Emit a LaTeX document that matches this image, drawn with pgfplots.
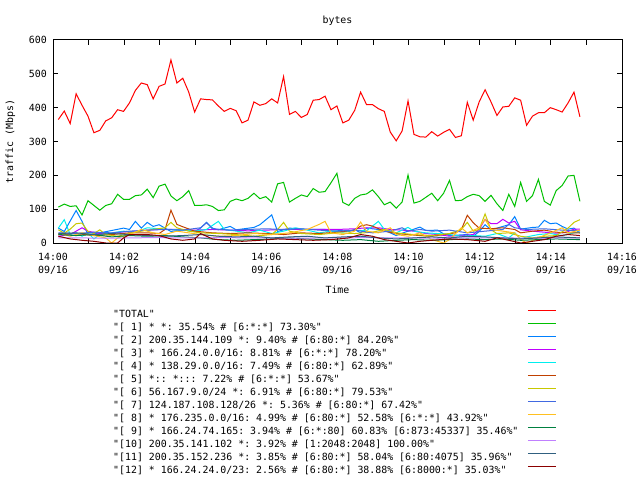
\documentclass[border=0pt]{standalone}
\usepackage{fontspec}
\setmonofont{DejaVu Sans Mono}
\renewcommand{\familydefault}{\ttdefault}
\usepackage{pgfplots}
\pgfplotsset{compat=1.18}

\definecolor{gpred}{HTML}{FF0000}
\definecolor{gpgreen}{HTML}{00C000}
\definecolor{gpblue}{HTML}{0080FF}
\definecolor{gppurple}{HTML}{C000FF}
\definecolor{gpcyan}{HTML}{00EEEE}
\definecolor{gpbrown}{HTML}{C04000}
\definecolor{gpyellow}{HTML}{C8C800}
\definecolor{gproyal}{HTML}{4169E1}
\definecolor{gpgold}{HTML}{FFC020}
\definecolor{gpdkgreen}{HTML}{008040}
\definecolor{gpltpurple}{HTML}{C080FF}
\definecolor{gpsteel}{HTML}{306080}
\definecolor{gpdkred}{HTML}{8B0000}

\newcommand{\gf}{\fontsize{9.9bp}{13bp}\selectfont}

\begin{document}
\begin{tikzpicture}
\useasboundingbox (0,0) rectangle (640bp,480bp);
% x is the sample number (10 s steps); 14:00 = -0.9, 14:16 = 95.1
\begin{axis}[
    at={(53bp,237bp)}, anchor=south west,
    scale only axis, width=569bp, height=203bp,
    xmin=-0.9, xmax=95.1, ymin=0, ymax=600,
    xtick={-0.9,5.1,11.1,17.1,23.1,29.1,35.1,41.1,47.1,53.1,59.1,65.1,71.1,77.1,83.1,89.1,95.1},
    xticklabels={{14:00\\09/16},{},{14:02\\09/16},{},{14:04\\09/16},{},{14:06\\09/16},{},{14:08\\09/16},{},{14:10\\09/16},{},{14:12\\09/16},{},{14:14\\09/16},{},{14:16\\09/16}},
    ytick={0,100,200,300,400,500,600},
    tick align=inside, major tick length=5bp,
    every tick/.style={black, line width=1bp},
    axis line style={line width=1bp},
    /pgf/number format/assume math mode=true,
    ticklabel style={font=\gf},
    xticklabel style={align=center, inner sep=0pt, anchor=north, yshift=-10bp},
    yticklabel style={anchor=east, inner sep=0pt, xshift=-6bp},
    title={bytes}, title style={font=\gf, at={(axis description cs:0.5,1)}, anchor=base, yshift=11bp},
    xlabel={Time}, xlabel style={font=\gf, at={(axis description cs:0.5,0)}, anchor=base, yshift=-50bp},
    ylabel={traffic (Mbps)}, ylabel style={font=\gf, at={(axis description cs:-0.0703,0.5)}, anchor=base},
    legend plot pos=right, legend cell align=left,
    legend image code/.code={\draw[#1] (0bp,4bp) -- (28bp,4bp);},
    legend style={at={(axis description cs:0.1054,-0.3202)}, anchor=north west,
        draw=none, fill=none, inner sep=0pt, row sep=0pt, column sep=9bp,
        nodes={inner sep=0pt, text height=9bp, text depth=4bp, font=\gf}},
    every axis plot/.append style={line width=1bp, mark=none},
]
\addplot[gpred] coordinates {
(0,365)(1,390)(2,353)(3,441)(4,407)(5,375)(6,326)(7,333)(8,361)(9,370)(10,394)(11,389)(12,414)(13,451)(14,473)(15,468)(16,426)(17,463)(18,470)(19,541)(20,473)(21,487)(22,446)(23,387)(24,426)(25,424)(26,423)(27,405)(28,389)(29,398)(30,391)(31,355)(32,363)(33,417)(34,407)(35,412)(36,426)(37,414)(38,492)(39,380)(40,389)(41,371)(42,380)(43,422)(44,424)(45,434)(46,394)(47,405)(48,355)(49,363)(50,392)(51,446)(52,409)(53,409)(54,397)(55,389)(56,328)(57,302)(58,331)(59,420)(60,321)(61,314)(62,313)(63,329)(64,316)(65,327)(66,336)(67,312)(68,317)(69,416)(70,363)(71,417)(72,453)(73,417)(74,377)(75,402)(76,404)(77,429)(78,422)(79,348)(80,375)(81,385)(82,385)(83,400)(84,394)(85,387)(86,414)(87,446)(88,373)};
\addlegendentry{"TOTAL"}
\addplot[gpgreen] coordinates {
(0,106)(1,115)(2,108)(3,110)(4,83)(5,125)(6,111)(7,97)(8,111)(9,116)(10,144)(11,129)(12,129)(13,140)(14,142)(15,159)(16,134)(17,168)(18,174)(19,139)(20,125)(21,137)(22,155)(23,111)(24,111)(25,113)(26,108)(27,96)(28,98)(29,123)(30,130)(31,125)(32,132)(33,147)(34,131)(35,137)(36,121)(37,175)(38,179)(39,121)(40,132)(41,142)(42,137)(43,161)(44,150)(45,152)(46,178)(47,206)(48,120)(49,111)(50,132)(51,142)(52,145)(53,157)(54,137)(55,113)(56,121)(57,103)(58,121)(59,201)(60,118)(61,123)(62,135)(63,147)(64,125)(65,147)(66,185)(67,125)(68,126)(69,137)(70,144)(71,140)(72,123)(73,141)(74,116)(75,96)(76,144)(77,108)(78,179)(79,123)(80,140)(81,188)(82,123)(83,112)(84,155)(85,170)(86,198)(87,200)(88,123)};
\addlegendentry{"[ 1] * *: 35.54\% \# [6:*:*] 73.30\%"}
\addplot[gpblue] coordinates {
(0,44)(1,34)(3,96)(4,64)(5,25)(7,30)(9,37)(11,44)(12,40)(13,64)(14,44)(15,61)(16,49)(17,54)(18,44)(19,34)(21,39)(23,34)(24,44)(25,61)(26,44)(27,39)(29,49)(30,39)(33,46)(34,54)(36,83)(37,34)(39,44)(42,40)(45,40)(47,38)(49,34)(50,40)(51,30)(52,44)(55,38)(57,22)(58,29)(60,41)(61,47)(62,37)(64,38)(65,27)(66,22)(69,25)(70,20)(71,34)(72,54)(73,39)(75,49)(76,54)(77,78)(78,41)(80,46)(81,47)(82,67)(83,57)(84,59)(85,49)(86,41)(87,44)(88,29)};
\addlegendentry{"[ 2] 200.35.144.109 *: 9.40\% \# [6:80:*] 84.20\%"}
\addplot[gppurple] coordinates {
(0,20)(2,25)(4,45)(5,35)(7,28)(9,28)(11,33)(13,35)(15,38)(17,40)(20,40)(23,38)(26,40)(29,38)(32,36)(35,38)(38,40)(41,40)(44,40)(47,40)(50,42)(52,45)(54,45)(56,40)(58,38)(60,35)(62,28)(64,25)(66,20)(68,22)(70,25)(71,40)(72,70)(73,57)(74,57)(75,70)(76,59)(77,64)(78,39)(80,35)(82,32)(84,29)(85,30)(86,34)(87,41)(88,41)};
\addlegendentry{"[ 3] * 166.24.0.0/16: 8.81\% \# [6:*:*] 78.20\%"}
\addplot[gpcyan] coordinates {
(0,44)(1,69)(2,25)(3,30)(4,20)(5,30)(6,12)(7,25)(9,30)(11,35)(13,32)(15,45)(17,42)(19,40)(21,38)(23,35)(25,40)(27,64)(28,40)(30,35)(32,30)(34,38)(36,28)(38,35)(40,45)(42,38)(44,30)(46,35)(48,32)(50,38)(52,36)(54,64)(55,40)(57,30)(59,46)(60,35)(62,30)(64,28)(66,25)(68,20)(70,22)(72,20)(74,28)(76,15)(77,30)(78,12)(79,18)(81,25)(83,28)(85,22)(87,30)(88,32)};
\addlegendentry{"[ 4] * 138.29.0.0/16: 7.49\% \# [6:80:*] 62.89\%"}
\addplot[gpbrown] coordinates {
(0,25)(3,28)(6,22)(9,25)(12,30)(15,30)(17,28)(18,40)(19,97)(20,55)(21,48)(23,35)(26,30)(29,28)(32,30)(35,28)(38,25)(41,30)(44,28)(47,32)(50,38)(51,50)(52,54)(53,50)(55,35)(57,28)(59,25)(61,22)(63,20)(65,25)(67,30)(68,40)(69,82)(70,60)(71,44)(73,42)(75,45)(77,40)(78,30)(80,35)(82,38)(84,32)(86,30)(88,30)};
\addlegendentry{"[ 5] *:: *::: 7.22\% \# [6:*:*] 53.67\%"}
\addplot[gpyellow] coordinates {
(0,39)(1,29)(2,41)(3,57)(4,59)(5,34)(6,28)(7,39)(8,25)(10,20)(12,28)(14,35)(16,40)(18,45)(19,61)(20,45)(22,35)(24,30)(27,28)(30,25)(33,20)(36,25)(37,40)(38,61)(39,35)(41,28)(44,25)(47,30)(50,28)(53,32)(55,40)(57,30)(60,25)(63,22)(66,28)(68,40)(69,61)(70,35)(71,40)(72,86)(73,39)(74,28)(76,30)(78,20)(80,15)(82,20)(84,22)(86,44)(87,61)(88,69)};
\addlegendentry{"[ 6] 56.167.9.0/24 *: 6.91\% \# [6:80:*] 79.53\%"}
\addplot[gproyal] coordinates {
(0,30)(3,28)(6,32)(9,30)(12,35)(15,38)(18,40)(21,38)(24,45)(25,60)(26,42)(29,38)(32,40)(35,42)(38,40)(41,42)(44,38)(47,35)(50,38)(53,30)(56,35)(58,45)(59,35)(61,40)(63,35)(66,38)(69,30)(72,35)(75,40)(76,55)(77,45)(79,40)(82,42)(85,38)(88,36)};
\addlegendentry{"[ 7] 124.187.108.128/26 *: 5.36\% \# [6:80:*] 67.42\%"}
\addplot[gpgold] coordinates {
(0,28)(2,20)(4,30)(6,22)(8,15)(9,0)(10,15)(12,25)(14,40)(16,30)(18,25)(20,35)(22,30)(24,25)(27,20)(30,22)(33,28)(36,25)(39,30)(42,40)(44,55)(45,64)(46,30)(48,25)(50,35)(51,62)(52,35)(54,30)(56,45)(57,25)(59,20)(61,30)(63,10)(65,0)(66,10)(68,45)(69,30)(71,45)(72,70)(73,40)(75,35)(77,30)(78,10)(79,0)(81,15)(83,30)(85,45)(86,30)(88,38)};
\addlegendentry{"[ 8] * 176.235.0.0/16: 4.99\% \# [6:80:*] 52.58\% [6:*:*] 43.92\%"}
\addplot[gpdkgreen] coordinates {
(0,25)(3,22)(6,25)(9,18)(12,22)(15,20)(18,22)(21,18)(24,15)(27,10)(30,8)(33,10)(36,12)(39,15)(42,12)(45,10)(48,8)(51,10)(54,5)(57,8)(60,10)(63,8)(66,10)(69,12)(72,10)(75,12)(78,8)(81,10)(84,12)(88,10)};
\addlegendentry{"[ 9] * 166.24.74.165: 3.94\% \# [6:*:80] 60.83\% [6:873:45337] 35.46\%"}
\addplot[gpltpurple] coordinates {
(0,15)(4,15)(8,14)(12,15)(16,16)(20,15)(24,15)(28,16)(32,15)(36,15)(40,14)(44,15)(48,15)(52,16)(56,15)(60,15)(64,14)(68,15)(72,15)(76,15)(80,14)(84,15)(88,15)};
\addlegendentry{"[10] 200.35.141.102 *: 3.92\% \# [1:2048:2048] 100.00\%"}
\addplot[gpsteel] coordinates {
(0,28)(3,30)(6,25)(9,28)(12,25)(15,22)(18,20)(21,22)(24,25)(27,20)(30,18)(33,20)(36,15)(39,18)(42,20)(45,15)(48,18)(51,20)(54,15)(57,12)(60,15)(63,18)(66,15)(69,20)(72,18)(75,15)(78,12)(81,15)(84,18)(88,15)};
\addlegendentry{"[11] 200.35.152.236 *: 3.85\% \# [6:80:*] 58.04\% [6:80:4075] 35.96\%"}
\addplot[gpdkred] coordinates {
(0,20)(2,12)(4,8)(6,5)(8,0)(10,0)(11,15)(12,25)(15,25)(17,22)(19,12)(21,8)(23,12)(24,28)(26,12)(28,8)(31,5)(34,8)(37,12)(40,10)(43,8)(46,10)(49,15)(51,25)(53,20)(55,10)(57,5)(59,0)(61,5)(63,8)(66,12)(69,10)(72,5)(74,15)(76,8)(78,0)(80,5)(82,10)(84,20)(86,25)(88,22)};
\addlegendentry{"[12] * 166.24.24.0/23: 2.56\% \# [6:80:*] 38.88\% [6:8000:*] 35.03\%"}
\end{axis}
\end{tikzpicture}
\end{document}
